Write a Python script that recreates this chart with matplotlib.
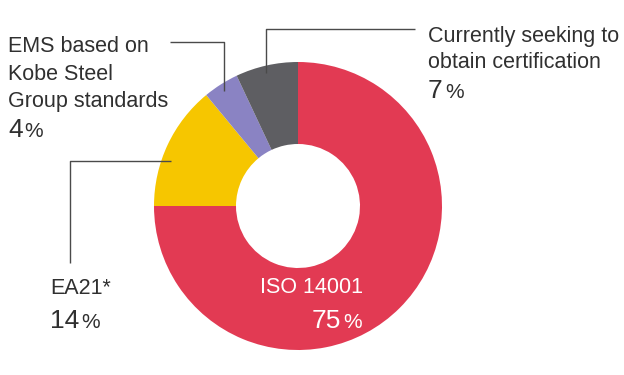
import matplotlib
matplotlib.use('Agg')
import matplotlib.pyplot as plt

plt.rcParams['font.family'] = ['Liberation Sans', 'DejaVu Sans']

# data
labels = ['ISO 14001', 'EA21*', 'EMS based on\nKobe Steel\nGroup standards', 'Currently seeking to\nobtain certification']
shares = [75, 14, 4, 7]
colors = ['#E23A53', '#F6C600', '#8A83C3', '#5E5E62']

W, H = 624, 375
fig = plt.figure(figsize=(W / 100, H / 100), dpi=100)
ax = fig.add_axes([0, 0, 1, 1])

cx, cy, r = 298, H - 206, 144
ax.pie(shares, colors=colors, startangle=90, counterclock=False,
       center=(cx, cy), radius=r,
       wedgeprops=dict(width=82, edgecolor='none', linewidth=0))
ax.set_xlim(0, W)
ax.set_ylim(0, H)
ax.set_aspect('equal')
ax.axis('off')

txt = '#303030'
line_c = '#4a4a4a'

def px(x, y):
    return x, H - y

# leader lines (pixel coords, y from top)
leaders = [
    [(170, 42), (224, 42), (224, 91)],
    [(266, 73), (266, 29), (415, 29)],
    [(171, 161), (70, 161), (70, 263)],
]
for pts in leaders:
    xs = [p[0] for p in pts]
    ys = [H - p[1] for p in pts]
    ax.plot(xs, ys, color=line_c, lw=1.0, solid_capstyle='butt')


def label(x, y_base, text, color=txt, dy=27.5):
    for i, ln in enumerate(text.split('\n')):
        ax.text(*px(x, y_base + i * dy), ln, fontsize=15.5, color=color,
                ha='left', va='baseline')


def pct(x, y_base, val, color=txt):
    t = ax.text(*px(x, y_base), str(val), fontsize=19, color=color,
                ha='left', va='baseline')
    ax.annotate('%', xy=(1, 0), xycoords=t, xytext=(2, 1),
                textcoords='offset pixels', fontsize=15, color=color,
                ha='left', va='bottom')


label(8, 52, labels[2])
pct(8, 137, shares[2])

label(428, 42, labels[3], dy=26)
pct(428, 98, shares[3])

label(50, 294, labels[1])
pct(50, 328, shares[1])

label(260, 293, labels[0], color='white')
pct(312, 328, shares[0], color='white')

fig.savefig('out.png', dpi=100, facecolor='white')
